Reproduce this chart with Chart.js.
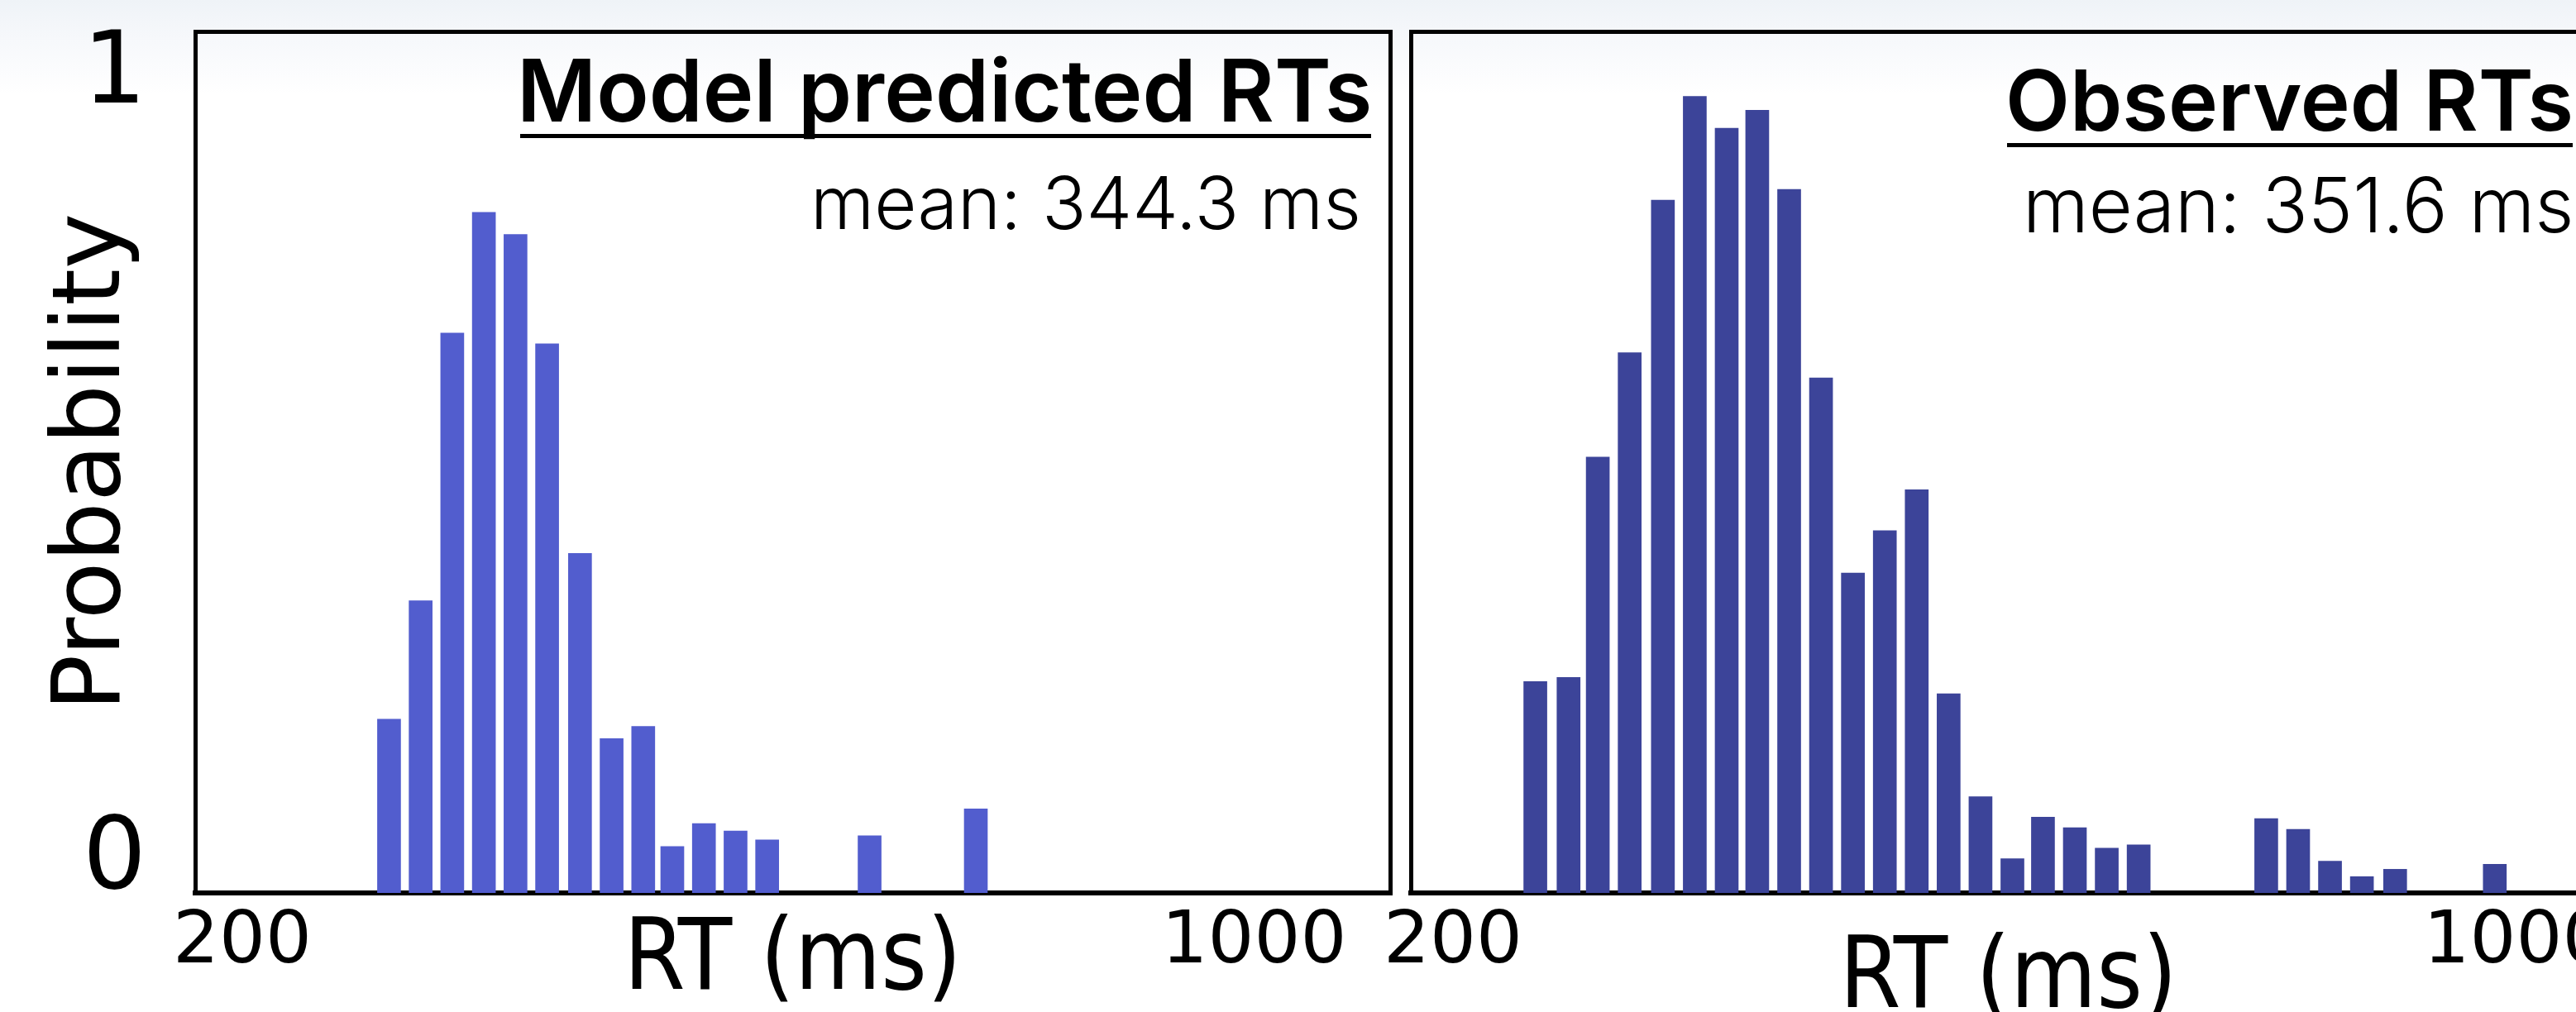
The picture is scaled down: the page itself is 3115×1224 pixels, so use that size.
<!DOCTYPE html>
<html>
<head>
<meta charset="utf-8">
<script src="https://cdn.jsdelivr.net/npm/chart.js@4.4.1/dist/chart.umd.min.js"></script>
<style>
html, body { margin: 0; padding: 0; width: 3115px; height: 1224px; overflow: hidden; }
body { position: relative; background: linear-gradient(to bottom, #eff3f7 0px, #f6f8fb 45px, #ffffff 115px); }
canvas { position: absolute; top: 0; }
#modelChart { left: 0; }
#observedChart { left: 1620px; }
</style>
</head>
<body>
<canvas id="modelChart" width="1700" height="1224"></canvas>
<canvas id="observedChart" width="1550" height="1224"></canvas>
<script>
// bin centres (ms) and heights
const MODEL_RT = [316, 341, 366, 391, 416, 441, 467, 492, 517, 540, 565, 590, 615, 696, 780];
const MODEL_PROB = [0.213, 0.358, 0.686, 0.834, 0.807, 0.673, 0.416, 0.189, 0.204, 0.057, 0.085, 0.076, 0.065, 0.070, 0.103];

const OBSERVED_RT = [262, 287, 309, 333, 358, 382, 406, 429, 453, 477, 501, 525, 549, 573, 597, 621, 644, 668, 692, 716, 812, 836, 860, 884, 909, 984];
const OBSERVED_PROB = [0.259, 0.264, 0.534, 0.662, 0.849, 0.976, 0.937, 0.959, 0.862, 0.631, 0.392, 0.444, 0.494, 0.244, 0.118, 0.042, 0.093, 0.080, 0.055, 0.059, 0.091, 0.078, 0.039, 0.020, 0.029, 0.035];

const X_TICKS = [200, 1000];
const X_TICK_LABELS = ['200', '1000'];
const Y_TICKS = [0.0375, 1];
const Y_TICK_LABELS = ['0', '1'];
const Y_MAX = 1.0557;

function drawFitted(ctx, text, weight, left, right, baseline) {
    ctx.font = `${weight} 100px Inter`;
    let m = ctx.measureText(text);
    const size = 100 * (right - left) / (m.actualBoundingBoxLeft + m.actualBoundingBoxRight);
    ctx.font = `${weight} ${size}px Inter`;
    m = ctx.measureText(text);
    ctx.fillText(text, left + m.actualBoundingBoxLeft, baseline);
}

// panel heading (bold, underlined) and the mean line, drawn inside the frame
const panelText = {
    id: 'panelText',
    afterDraw(chart, args, o) {
        const ctx = chart.ctx;
        ctx.save();
        ctx.fillStyle = '#000';
        ctx.textAlign = 'left';
        ctx.textBaseline = 'alphabetic';
        drawFitted(ctx, o.title, 600, o.titleLeft, o.titleRight, o.titleBaseline);
        ctx.fillRect(o.titleLeft - 3, o.underlineY, o.titleRight - o.titleLeft + 6, 5);
        drawFitted(ctx, o.subtitle, 300, o.subLeft, o.subRight, o.subBaseline);
        ctx.restore();
    }
};

function frameAxis(position, size) {
    const horizontal = position === 'top';
    return {
        type: 'linear',
        position: position,
        afterFit: s => {
            if (horizontal) { s.height = size; } else { s.width = size; }
            s.paddingLeft = 0; s.paddingRight = 0; s.paddingTop = 0; s.paddingBottom = 0;
        },
        grid: { display: false, drawTicks: false, lineWidth: 5 },
        border: { display: true, color: '#000', width: 5 },
        ticks: { display: false }
    };
}

function makeChart(id, rts, probs, color, cfg) {
    return new Chart(document.getElementById(id), {
        type: 'bar',
        data: {
            datasets: [{
                data: rts.map((x, i) => ({ x: x, y: probs[i] })),
                backgroundColor: color,
                borderWidth: 0,
                barThickness: 28
            }]
        },
        options: {
            responsive: false,
            animation: false,
            layout: { padding: { top: 38, right: 19, bottom: 0, left: 0 } },
            plugins: {
                legend: { display: false },
                tooltip: { enabled: false },
                panelText: cfg.text
            },
            scales: {
                x: {
                    type: 'linear',
                    min: cfg.xMin,
                    max: cfg.xMax,
                    offset: false,
                    z: 1,
                    afterBuildTicks: s => { s.ticks = X_TICKS.map(v => ({ value: v })); },
                    afterFit: s => { s.height = cfg.xHeight; s.paddingLeft = 0; s.paddingRight = 0; },
                    grid: { display: false, drawTicks: false, lineWidth: 6 },
                    border: { display: true, color: '#000', width: 6 },
                    ticks: {
                        padding: 17,
                        maxRotation: 0,
                        autoSkip: false,
                        color: '#000',
                        font: { family: 'DejaVu Sans', size: 88, lineHeight: 1 },
                        callback: (v, i) => X_TICK_LABELS[i]
                    },
                    title: {
                        display: true,
                        text: 'RT (ms)',
                        color: '#000',
                        font: { family: '"DejaVu Sans Condensed", "DejaVu Sans"', size: 119, lineHeight: 1 },
                        padding: { top: 0, bottom: cfg.xTitlePad }
                    }
                },
                y: {
                    type: 'linear',
                    min: 0,
                    max: Y_MAX,
                    afterBuildTicks: s => { s.ticks = Y_TICKS.map(v => ({ value: v })); },
                    afterFit: s => { s.width = cfg.yWidth; s.paddingTop = 0; s.paddingBottom = 0; },
                    grid: { display: false, drawTicks: false, lineWidth: 5 },
                    border: { display: true, color: '#000', width: 5 },
                    ticks: {
                        display: cfg.showY,
                        padding: 59,
                        color: '#000',
                        font: { family: 'DejaVu Sans', size: 121, lineHeight: 1 },
                        callback: (v, i) => Y_TICK_LABELS[i]
                    },
                    title: {
                        display: cfg.showY,
                        text: 'Probability',
                        color: '#000',
                        font: { family: 'DejaVu Sans', size: 114, lineHeight: 1 },
                        padding: { top: 57, bottom: 0 }
                    }
                },
                xTop: frameAxis('top', 0),
                yRight: frameAxis('right', 0)
            }
        },
        plugins: [panelText]
    });
}

makeChart('modelChart', MODEL_RT, MODEL_PROB, '#525dce', {
    xMin: 162.7, xMax: 1107.6, xHeight: 144, xTitlePad: -1, yWidth: 236, showY: true,
    text: {
        title: 'Model predicted RTs', titleLeft: 632, titleRight: 1655, titleBaseline: 147, underlineY: 162,
        subtitle: 'mean: 344.3 ms', subLeft: 987, subRight: 1642, subBaseline: 277
    }
});

makeChart('observedChart', OBSERVED_RT, OBSERVED_PROB, '#3c4499', {
    xMin: 168.3, xMax: 1067.5, xHeight: 144, xTitlePad: -23, yWidth: 86, showY: false,
    text: {
        title: 'Observed RTs', titleLeft: 810, titleRight: 1488, titleBaseline: 158, underlineY: 173,
        subtitle: 'mean: 351.6 ms', subLeft: 833, subRight: 1488, subBaseline: 281
    }
});
</script>
</body>
</html>
